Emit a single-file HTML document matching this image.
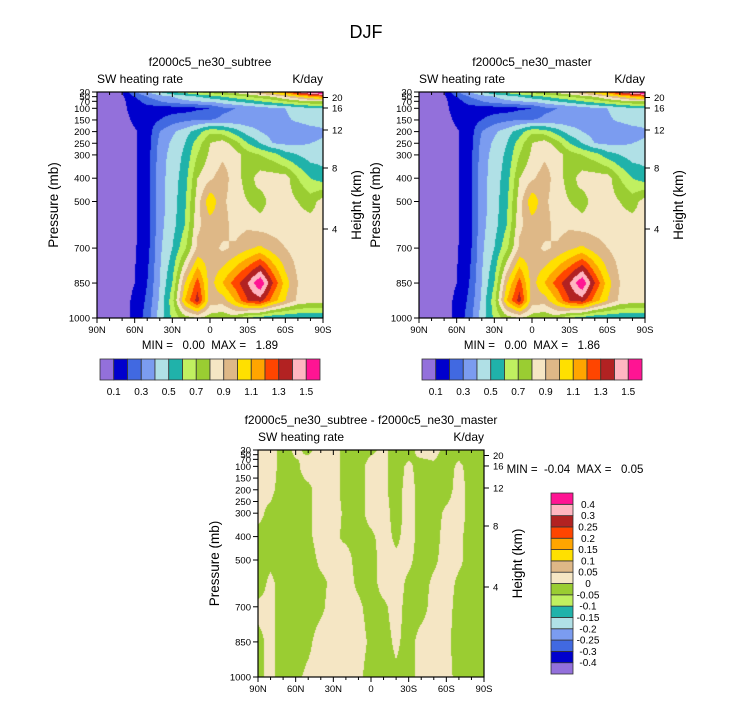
<!DOCTYPE html>
<html><head><meta charset="utf-8">
<style>
body{margin:0;background:#fff;width:733px;height:701px;overflow:hidden;position:relative;font-family:"Liberation Sans",Arial,sans-serif}
canvas{position:absolute}
svg{position:absolute;left:0;top:0}
</style></head>
<body>
<canvas id="c1" width="226" height="226" style="left:97px;top:92px"></canvas>
<canvas id="c2" width="226" height="226" style="left:419px;top:92px"></canvas>
<canvas id="c3" width="226" height="227" style="left:258px;top:450px"></canvas>
<svg id="s" width="733" height="701"></svg>
<script>
// ---- data ----
const lats = [90,80,70,60,50,40,30,20,10,0,-10,-20,-30,-40,-50,-60,-70,-80,-90];
const levels = [30,50,70,100,150,200,250,300,400,500,600,700,850,925,1000];
const subtreeValues = [
[.05,.05,.1,.3,.4,.5,.6,.65,.7,.75,.8,.85,.9,1.0,1.1,1.2,1.4,1.6,1.7],
[.05,.05,.08,.2,.3,.35,.4,.45,.5,.55,.6,.65,.7,.75,.8,.9,1.0,1.1,1.2],
[.05,.05,.08,.15,.25,.3,.35,.38,.4,.42,.45,.5,.55,.6,.65,.7,.75,.8,.8],
[.05,.05,.07,.15,.15,.15,.15,.15,.18,.2,.28,.3,.32,.35,.38,.4,.45,.48,.5],
[.05,.05,.06,.12,.15,.2,.25,.28,.3,.3,.32,.33,.34,.35,.36,.38,.42,.45,.45],
[.05,.05,.05,.09,.14,.3,.38,.45,.55,.68,.65,.55,.45,.4,.35,.32,.32,.35,.38],
[.05,.05,.05,.09,.15,.33,.42,.5,.65,.8,.85,.75,.6,.5,.4,.38,.38,.4,.42],
[.05,.05,.05,.09,.15,.35,.44,.52,.7,.82,.88,.85,.75,.7,.65,.55,.5,.45,.45],
[.05,.05,.05,.09,.15,.36,.45,.55,.8,.88,.95,.85,.75,.85,.85,.85,.7,.6,.55],
[.05,.05,.05,.09,.15,.36,.45,.58,.85,1.08,.92,.85,.8,.75,.85,.85,.8,.75,.85],
[.05,.05,.05,.09,.15,.37,.46,.6,.88,.95,.95,.85,.88,.85,.85,.85,.85,.85,.85],
[.05,.05,.05,.09,.16,.38,.5,.68,.92,.95,.88,.92,.98,1.02,.95,.9,.85,.85,.85],
[.05,.05,.06,.1,.2,.4,.6,1.0,1.25,.95,1.1,1.25,1.4,1.6,1.3,1.05,.9,.85,.85],
[.05,.05,.06,.12,.22,.42,.66,1.1,1.35,.95,.95,1.1,1.3,1.35,1.15,1.0,.88,.85,.85],
[.05,.05,.07,.12,.25,.45,.62,.75,.8,.75,.72,.75,.6,.55,.5,.5,.5,.5,.5]];
const masterValues = subtreeValues.map(r => r.slice());
const diffLevels = [30,100,200,300,400,500,600,700,850,1000];
const diffValues = [
[1,2,-2,1,-1,2,2,-2,-2,-1,1,-2,-2,2,2,-2,-2,-2,-2],
[1,2,-2,-1,2,2,2,-2,-2,2,1,-2,1,-2,-1,-2,1,-2,-2],
[1,1,-2,-1,-1,2,2,-2,-2,2,1,-2,2,-2,-2,-2,2,-2,-2],
[1,-1,-2,-2,-1,2,2,-1,-2,2,2,-2,2,-2,-2,1,2,-2,-2],
[-1,-1,-2,-2,-1,2,1,-1,-2,-1,2,-1,2,-2,-2,2,1,-2,-2],
[-2,-1,-2,-2,-2,1,1,2,-2,-2,2,1,1,-2,-1,2,1,-2,-2],
[-2,1,-2,-2,-2,-1,1,2,-1,-2,2,2,-1,-2,1,2,-1,-2,-2],
[1,1,-2,-2,-2,-1,2,2,1,-2,-1,2,-2,-2,2,2,-2,-2,-2],
[-1,1,-2,-2,-1,2,2,2,2,-1,-2,1,-2,2,2,1,-2,-2,-2],
[-1,1,-2,-1,1,2,2,2,1,-2,-2,-1,-2,2,2,2,-2,-2,-2]].map(r=>r.map(v=>v*0.01));
const colors = ["#9370DB","#0000CD","#4169E1","#7B9CF0","#B0E0E6","#20B2AA","#C0F060","#9ACD32","#F5E6C4","#DEB887","#FFE000","#FFA500","#FF4500","#B22222","#FFB6C1","#FF1493"];
const mainBounds = [0.1,0.2,0.3,0.4,0.5,0.6,0.7,0.8,0.9,1.0,1.1,1.2,1.3,1.4,1.5];
const mainLabels = ["0.1","0.3","0.5","0.7","0.9","1.1","1.3","1.5"];
const diffBounds = [-0.4,-0.3,-0.25,-0.2,-0.15,-0.1,-0.05,0,0.05,0.1,0.15,0.2,0.25,0.3,0.4];
const diffLabels = ["-0.4","-0.3","-0.25","-0.2","-0.15","-0.1","-0.05","0","0.05","0.1","0.15","0.2","0.25","0.3","0.4"];
const pTicks = [30,50,70,100,150,200,250,300,400,500,700,850,1000];
const hTicks = [[20,97.5],[16,108],[12,130],[8,168],[4,229]];
const latLabels = ["90N","60N","30N","0","30S","60S","90S"];

function hexRgb(h){return [parseInt(h.substr(1,2),16),parseInt(h.substr(3,2),16),parseInt(h.substr(5,2),16)];}
const rgbs = colors.map(hexRgb);
function drawField(id, lv, grid, bounds){
  const cv=document.getElementById(id), ctx=cv.getContext('2d');
  const W=cv.width,H=cv.height, img=ctx.createImageData(W,H);
  for(let y=0;y<H;y++){
    const p=30+970*(y+0.5)/H;
    let k=0; while(k<lv.length-2 && p>lv[k+1]) k++;
    const ty=Math.min(1,Math.max(0,(p-lv[k])/(lv[k+1]-lv[k])));
    for(let x=0;x<W;x++){
      const fi=(lats.length-1)*(x+0.5)/W, i=Math.min(lats.length-2,Math.floor(fi)), tx=fi-i;
      const a=grid[k][i]*(1-tx)+grid[k][i+1]*tx, b=grid[k+1][i]*(1-tx)+grid[k+1][i+1]*tx;
      const v=a*(1-ty)+b*ty;
      let c=0; while(c<bounds.length && v>=bounds[c]) c++;
      const o=(y*W+x)*4, col=rgbs[c];
      img.data[o]=col[0];img.data[o+1]=col[1];img.data[o+2]=col[2];img.data[o+3]=255;
    }
  }
  ctx.putImageData(img,0,0);
}
drawField('c1',levels,subtreeValues,mainBounds);
drawField('c2',levels,masterValues,mainBounds);
drawField('c3',diffLevels,diffValues,diffBounds);

const svg=document.getElementById('s'), NS='http://www.w3.org/2000/svg';
function el(tag,attrs,text){const e=document.createElementNS(NS,tag);for(const k in attrs)e.setAttribute(k,attrs[k]);if(text!==undefined)e.textContent=text;svg.appendChild(e);return e;}
function txt(x,y,s,size,anchor,name,rot){
  const e=el('text',{x:x,y:y,'font-size':size,'text-anchor':anchor||'middle','font-family':'Liberation Sans, Arial, sans-serif',fill:'#000'},s);
  if(rot) e.setAttribute('transform','rotate(-90 '+x+' '+y+')');
  
  
  return e;
}
txt(366,38,'DJF',18,'middle','main-title');

function panel(x0,y0,W,H,title,pre){
  const py=p=>y0+(p-30)/970*H, lx=i=>x0+W*i/18;
  const fr=el('rect',{x:x0,y:y0,width:W,height:H,fill:'none',stroke:'#000','stroke-width':1.2});
  
  
  txt(x0+W/2,y0-26,title,12,'middle',pre+'-title');
  txt(x0,y0-9,'SW heating rate',12,'start',pre+'-variable-label');
  txt(x0+W,y0-9,'K/day',12,'end',pre+'-units-label');
  txt(x0-39,y0+H/2,'Pressure (mb)',13.5,'middle',pre+'-y-axis-title',true);
  txt(x0+W+38,y0+H/2,'Height (km)',13.5,'middle',pre+'-right-axis-title',true);
  pTicks.forEach(p=>{
    const t=el('line',{x1:x0-5,x2:x0,y1:py(p),y2:py(p),stroke:'#000'});
    
    
    txt(x0-7,py(p)+3.5,String(p),9.5,'end',pre+'-pressure-label');
  });
  hTicks.forEach(h=>{
    const yy=y0+(h[1]-92);
    const t=el('line',{x1:x0+W,x2:x0+W+5,y1:yy,y2:yy,stroke:'#000'});
    
    
    txt(x0+W+9,yy+3.5,String(h[0]),9.5,'start',pre+'-height-label');
  });
  for(let i=0;i<=18;i++){
    const len=i%3==0?5:3;
    const t=el('line',{x1:lx(i),x2:lx(i),y1:y0,y2:y0+len,stroke:'#000'});
    
    
    const b=el('line',{x1:lx(i),x2:lx(i),y1:y0+H,y2:y0+H+len,stroke:'#000'});
    
    
  }
  latLabels.forEach((s,i)=>txt(x0+W*i/6,y0+H+15,s,9.5,'middle',pre+'-lat-label'));
}
panel(97,92,226,226,'f2000c5_ne30_subtree','subtree');
panel(419,92,226,226,'f2000c5_ne30_master','master');
panel(258,450,226,227,'f2000c5_ne30_subtree - f2000c5_ne30_master','diff');
txt(210,349,'MIN =   0.00  MAX =   1.89',11.5,'middle','subtree-min-max');
txt(532,349,'MIN =   0.00  MAX =   1.86',11.5,'middle','master-min-max');
txt(575,473,'MIN =  -0.04  MAX =   0.05',11.5,'middle','diff-min-max');
document.querySelectorAll('text').forEach(t=>t.style.whiteSpace='pre');

function hbar(x0,y0,W,H,pre){
  const bw=W/colors.length;
  colors.forEach((c,i)=>{
    const r=el('rect',{x:x0+i*bw,y:y0,width:bw,height:H,fill:c,stroke:'#333','stroke-width':0.8});
    
    
  });
  mainLabels.forEach((s,j)=>txt(x0+(2*j+1)*bw,y0+H+15,s,10,'middle',pre+'-colorbar-label'));
}
hbar(100,359,220,21,'subtree');
hbar(422,359,220,21,'master');
(function(){
  const x0=551,y0=493,W=22,H=181,bh=H/colors.length;
  colors.forEach((c,i)=>{
    const r=el('rect',{x:x0,y:y0+H-(i+1)*bh,width:W,height:bh,fill:c,stroke:'#333','stroke-width':0.8});
    
    
  });
  diffLabels.forEach((s,j)=>txt(588,y0+H-(j+1)*bh+3.5,s,10,'middle','diff-colorbar-label'));
})();
</script>
</body></html>
